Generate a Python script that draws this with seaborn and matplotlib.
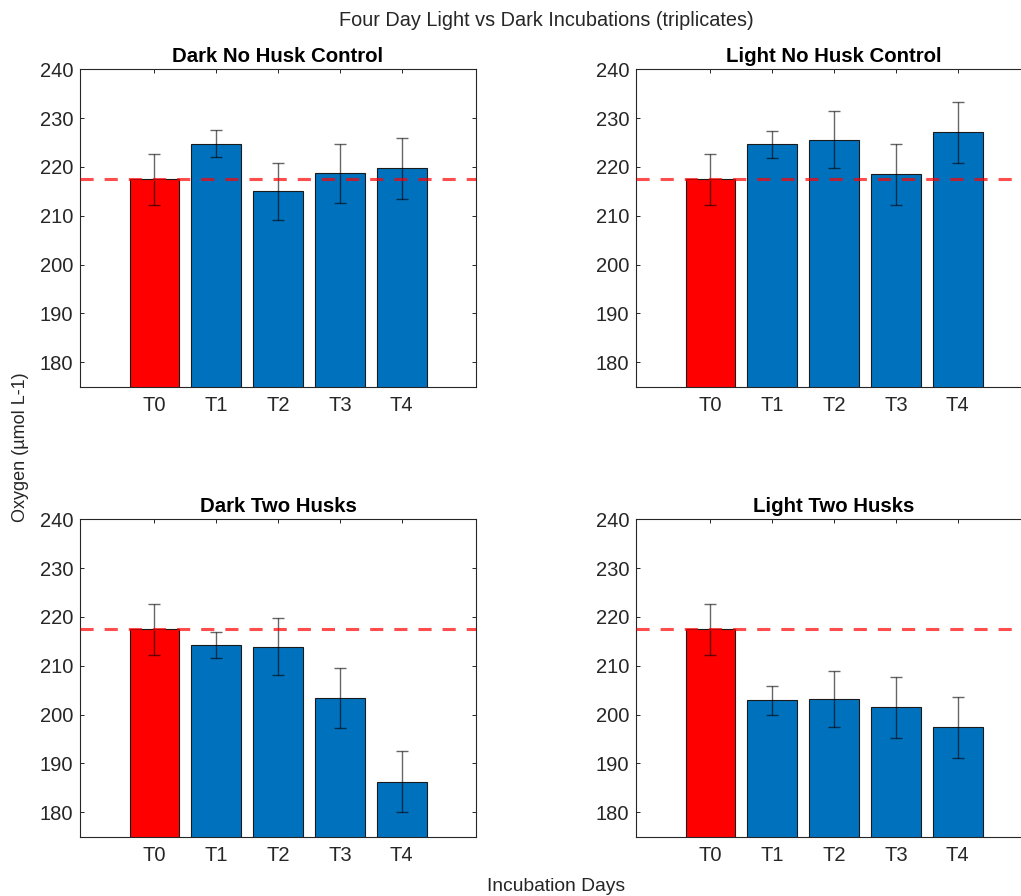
import matplotlib
matplotlib.use("Agg")
import matplotlib.pyplot as plt
import seaborn as sns
import pandas as pd

# Incubation days shown on every panel
days = ["T0", "T1", "T2", "T3", "T4"]

# Panel titles
titles = ["Dark No Husk Control", "Light No Husk Control",
          "Dark Two Husks", "Light Two Husks"]

# Mean oxygen (µmol L-1) per day, triplicate incubations
dark_control = [217.5, 224.8, 215.0, 218.7, 219.7]
light_control = [217.5, 224.6, 225.6, 218.5, 227.1]
dark_husks = [217.5, 214.3, 213.9, 203.4, 186.3]
light_husks = [217.5, 202.9, 203.2, 201.5, 197.4]

# Standard deviations
dark_control_err = [5.2, 2.8, 5.8, 6.1, 6.2]
light_control_err = [5.2, 2.8, 5.8, 6.2, 6.2]
dark_husks_err = [5.2, 2.7, 5.8, 6.2, 6.3]
light_husks_err = [5.2, 2.9, 5.8, 6.2, 6.2]

y_ticks = [180, 190, 200, 210, 220, 230, 240]

sns.set_style("ticks")
plt.rcParams["font.family"] = ["Liberation Sans", "DejaVu Sans"]

INK = "#262626"
RED = "#FF0000"
BLUE = "#0072BD"

fig = plt.figure(figsize=(10.21, 8.96), dpi=100)
W, H = 1021, 896


def px_axes(left, top, right, bottom):
    return fig.add_axes([left / W, 1 - bottom / H, (right - left) / W, (bottom - top) / H])


axes = [
    px_axes(80, 69.3, 476, 386.7),
    px_axes(636, 69.3, 1032, 386.7),
    px_axes(80, 519.3, 476, 836.7),
    px_axes(636, 519.3, 1032, 836.7),
]

series = [
    (dark_control, dark_control_err),
    (light_control, light_control_err),
    (dark_husks, dark_husks_err),
    (light_husks, light_husks_err),
]

palette = {d: (RED if i == 0 else BLUE) for i, d in enumerate(days)}

for ax, title, (vals, errs) in zip(axes, titles, series):
    df = pd.DataFrame({"day": days, "oxygen": vals, "err": errs})
    sns.barplot(data=df, x="day", y="oxygen", hue="day", palette=palette,
                legend=False, ax=ax, width=0.8, edgecolor="#1a1a1a",
                linewidth=0.8, errorbar=None, saturation=1, zorder=2)
    ax.errorbar(range(len(days)), df["oxygen"], yerr=df["err"], fmt="none",
                ecolor="black", alpha=0.6, elinewidth=1.0, capsize=4.5,
                capthick=1.0, zorder=3)
    # reference level: the T0 starting concentration
    ax.axhline(df["oxygen"].iloc[0], color=RED, alpha=0.7, lw=2.2,
               ls=(0, (4.3, 3.6)), zorder=4)

    ax.set_xlim(-1.2, 5.2)
    ax.set_ylim(175, 240)
    ax.set_yticks(y_ticks)
    ax.set_xticks(range(len(days)))
    ax.set_xticklabels(days)
    ax.set_xlabel("")
    ax.set_ylabel("")
    ax.set_title(title, fontsize=14.7, fontweight="bold", color="black", pad=5)
    ax.tick_params(axis="both", direction="in", top=True, right=True,
                   length=3, width=0.7, colors=INK, labelsize=14.5)
    ax.tick_params(axis="x", pad=7)
    ax.tick_params(axis="y", pad=5)
    for sp in ax.spines.values():
        sp.set_visible(True)
        sp.set_color(INK)
        sp.set_linewidth(0.8)

fig.text(546 / W, 1 - 21 / H, "Four Day Light vs Dark Incubations (triplicates)",
         ha="center", va="center", fontsize=14.3, color=INK)
fig.text(556 / W, 1 - 886 / H, "Incubation Days", ha="center", va="center",
         fontsize=13.9, color=INK)
fig.text(20.5 / W, 1 - 447.5 / H, "Oxygen (µmol L-1)", ha="center", va="center",
         rotation=90, fontsize=13, color=INK)

fig.savefig("out.png", dpi=100)
